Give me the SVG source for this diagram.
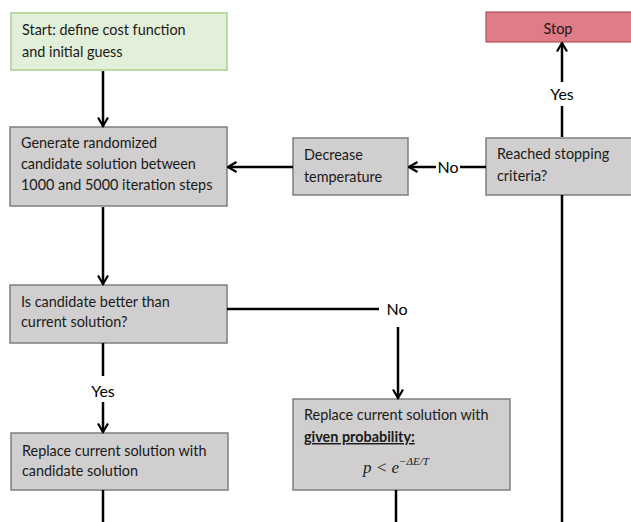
<svg xmlns="http://www.w3.org/2000/svg" width="631" height="522" viewBox="0 0 631 522">
<defs>
<marker id="ah" viewBox="0 0 12 12" refX="10.5" refY="6" markerWidth="12" markerHeight="12" markerUnits="userSpaceOnUse" orient="auto">
<path d="M2,1 L10.5,6 L2,11" fill="none" stroke="#000" stroke-width="2.2"/>
</marker>
<style>
.t{font-family:Lato,"Open Sans","Liberation Sans",sans-serif;font-size:14.4px;fill:#1a1a1a}
.box{fill:#d0cece;stroke:#7f7f7f;stroke-width:1.5}
.c{fill:none;stroke:#000;stroke-width:2.5}
.lbl{font-family:Lato,"Open Sans","Liberation Sans",sans-serif;font-size:16px;fill:#000}
</style>
</defs>
<rect width="631" height="522" fill="#fff"/>
<g id="start">
<rect x="11" y="13" width="216" height="57" fill="#e2efd9" stroke="#a9d18e" stroke-width="1.5"/>
<text class="t" x="22" y="35">Start: define cost function</text>
<text class="t" x="22" y="57">and initial guess</text>
</g>
<g id="generate">
<rect class="box" x="10" y="127" width="217" height="79"/>
<text class="t" x="21" y="148">Generate randomized</text>
<text class="t" x="21" y="169">candidate solution between</text>
<text class="t" x="21" y="190">1000 and 5000 iteration steps</text>
</g>
<g id="decrease">
<rect class="box" x="293" y="138" width="115" height="57"/>
<text class="t" x="304" y="160">Decrease</text>
<text class="t" x="304" y="182">temperature</text>
</g>
<g id="reached">
<rect class="box" x="486" y="138" width="150" height="57"/>
<text class="t" x="497" y="159">Reached stopping</text>
<text class="t" x="497" y="181">criteria?</text>
</g>
<g id="stop">
<rect x="486" y="12" width="150" height="30" fill="#e07b88" stroke="#b0505e" stroke-width="1.2"/>
<text class="t" x="558" y="34" text-anchor="middle">Stop</text>
</g>
<g id="better">
<rect class="box" x="10" y="285" width="217" height="58"/>
<text class="t" x="21" y="307">Is candidate better than</text>
<text class="t" x="21" y="327">current solution?</text>
</g>
<g id="replace-candidate">
<rect class="box" x="11" y="433" width="217" height="57"/>
<text class="t" x="22" y="456">Replace current solution with</text>
<text class="t" x="22" y="476">candidate solution</text>
</g>
<g id="replace-probability">
<rect class="box" x="293" y="399" width="217" height="91"/>
<text class="t" x="304" y="420">Replace current solution with</text>
<text class="t" x="304" y="442" font-weight="bold" text-decoration="underline">given probability:</text>
<text x="363" y="473" font-family="'Liberation Serif','DejaVu Serif',serif" font-style="italic" font-size="17" fill="#222">p &lt; e<tspan font-size="11" dy="-8">−ΔE/T</tspan></text>
</g>
<g id="connectors">
<line class="c" x1="103" y1="71" x2="103" y2="126" marker-end="url(#ah)"/>
<line class="c" x1="293" y1="167" x2="228" y2="167" marker-end="url(#ah)"/>
<line class="c" x1="486" y1="167" x2="460" y2="167"/>
<text class="lbl" x="448" y="173" text-anchor="middle">No</text>
<line class="c" x1="436" y1="167" x2="409" y2="167" marker-end="url(#ah)"/>
<line class="c" x1="562" y1="137" x2="562" y2="106"/>
<text class="lbl" x="562" y="100" text-anchor="middle">Yes</text>
<line class="c" x1="562" y1="82" x2="562" y2="43" marker-end="url(#ah)"/>
<line class="c" x1="562" y1="195" x2="562" y2="522"/>
<line class="c" x1="103" y1="207" x2="103" y2="284" marker-end="url(#ah)"/>
<line class="c" x1="227" y1="309" x2="379" y2="309"/>
<text class="lbl" x="397" y="315" text-anchor="middle">No</text>
<line class="c" x1="398" y1="327" x2="398" y2="398" marker-end="url(#ah)"/>
<line class="c" x1="103" y1="343" x2="103" y2="376"/>
<text class="lbl" x="103" y="397" text-anchor="middle">Yes</text>
<line class="c" x1="103" y1="402" x2="103" y2="432" marker-end="url(#ah)"/>
<line class="c" x1="103" y1="490" x2="103" y2="522"/>
<line class="c" x1="396" y1="490" x2="396" y2="522"/>
</g>
</svg>
